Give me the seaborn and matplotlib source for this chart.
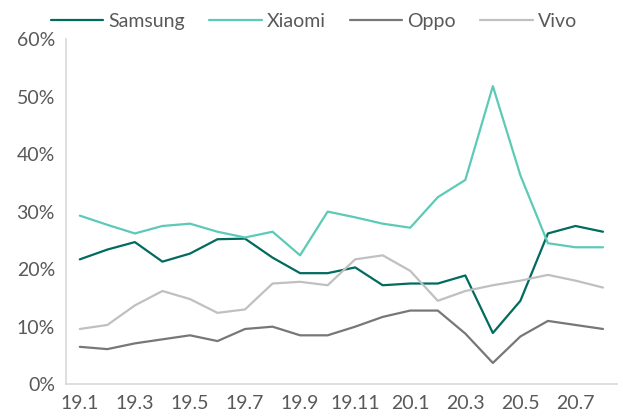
import matplotlib
matplotlib.use("Agg")
import matplotlib.pyplot as plt
import seaborn as sns
import pandas as pd
import numpy as np

# monthly share by brand, 19.1 .. 20.8
months = ['19.1', '19.2', '19.3', '19.4', '19.5', '19.6', '19.7', '19.8', '19.9', '19.10',
          '19.11', '19.12', '20.1', '20.2', '20.3', '20.4', '20.5', '20.6', '20.7', '20.8']
samsung = [21.7, 23.4, 24.7, 21.3, 22.7, 25.2, 25.3, 22.0, 19.3, 19.3,
           20.3, 17.2, 17.5, 17.5, 18.9, 8.9, 14.5, 26.2, 27.5, 26.5]
xiaomi = [29.3, 27.7, 26.2, 27.5, 27.9, 26.5, 25.5, 26.5, 22.4, 30.0,
          29.0, 27.9, 27.2, 32.5, 35.5, 51.8, 36.3, 24.5, 23.8, 23.8]
oppo = [6.5, 6.1, 7.1, 7.8, 8.5, 7.5, 9.6, 10.0, 8.5, 8.5,
        10.0, 11.7, 12.8, 12.8, 8.8, 3.7, 8.3, 11.0, 10.3, 9.6]
vivo = [9.6, 10.3, 13.7, 16.2, 14.8, 12.4, 13.0, 17.5, 17.8, 17.2,
        21.7, 22.4, 19.7, 14.5, 16.2, 17.2, 18.0, 19.0, 18.0, 16.8]
brands = ['Samsung', 'Xiaomi', 'Oppo', 'Vivo']
colors = ['#006b5e', '#5ccab7', '#777777', '#c0c0c0']

df = pd.DataFrame({'month': months, 'Samsung': samsung, 'Xiaomi': xiaomi,
                   'Oppo': oppo, 'Vivo': vivo})
df['idx'] = np.arange(len(months))
long = df.melt(id_vars=['month', 'idx'], value_vars=brands, var_name='brand', value_name='share')

sns.set_style('white')
plt.rcParams['font.family'] = ['Lato', 'DejaVu Sans']
text_col = '#595959'
axis_col = '#d9d9d9'
fs = 14

fig = plt.figure(figsize=(6.23, 4.19), dpi=100)
ax = fig.add_axes([0.106, 0.083, 0.884, 0.824])
sns.lineplot(data=long, x='idx', y='share', hue='brand', hue_order=brands,
             palette=colors, linewidth=1.6, ax=ax)

ax.set_xlim(-0.5, len(months) - 0.5)
ax.set_ylim(0, 60)
ax.set_yticks(range(0, 61, 10))
ax.set_yticklabels([f'{v}%' for v in range(0, 61, 10)])
# tick marks between categories, labels every second month
ax.set_xticks(np.arange(-0.5, len(months), 2))
ax.set_xticklabels([])
ax.set_xticks(np.arange(0, len(months), 2), minor=True)
ax.set_xticklabels(months[::2], minor=True)
ax.tick_params(axis='x', which='major', length=5, color=axis_col, width=1)
ax.tick_params(axis='x', which='minor', length=0, pad=8, labelsize=fs, labelcolor=text_col)
ax.tick_params(axis='y', length=5, color=axis_col, width=1, labelsize=fs, labelcolor=text_col, pad=3)
ax.set_xlabel('')
ax.set_ylabel('')
for s in ['top', 'right']:
    ax.spines[s].set_visible(False)
for s in ['left', 'bottom']:
    ax.spines[s].set_color(axis_col)
    ax.spines[s].set_linewidth(1.2)

ax.legend(loc='lower center', bbox_to_anchor=(0.45, 0.975), ncol=4, frameon=False,
          handlelength=2.7, handletextpad=0.25, columnspacing=1.25,
          prop={'size': fs}, labelcolor=text_col)

fig.savefig('out.png', dpi=100)
